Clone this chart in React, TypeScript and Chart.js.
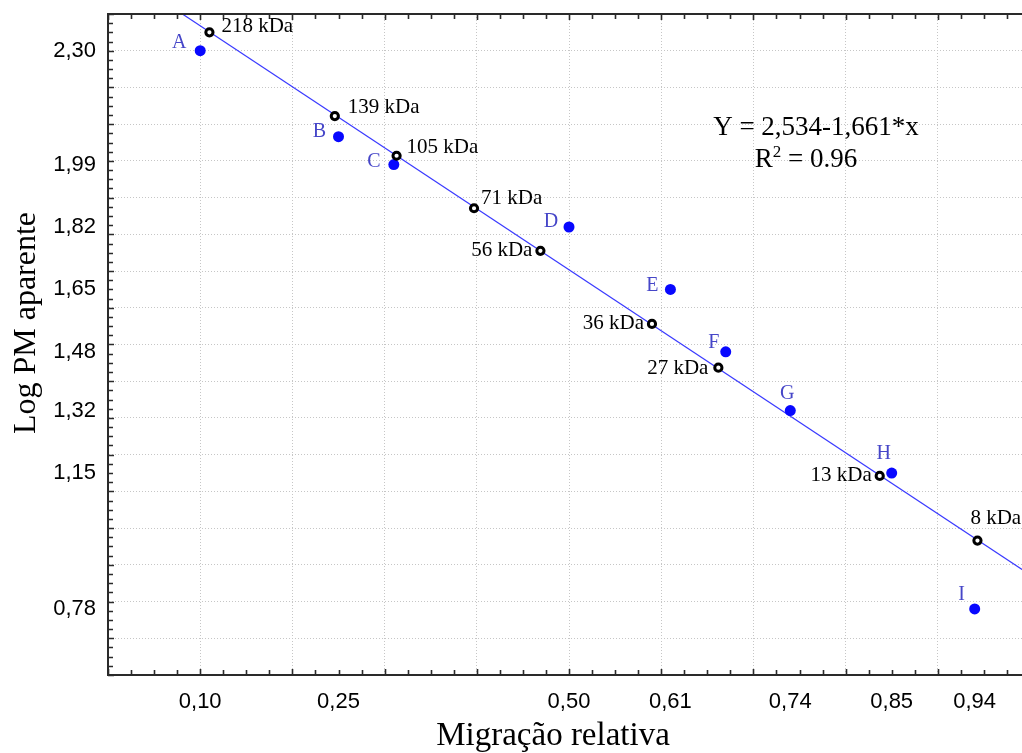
import React, { useEffect, useRef } from 'react';
import { Chart, registerables } from 'chart.js';

Chart.register(...registerables);

// ---------- data ----------
const standardLabels = ['218 kDa', '139 kDa', '105 kDa', '71 kDa', '56 kDa', '36 kDa', '27 kDa', '13 kDa', '8 kDa'];
const standardX = [0.110, 0.246, 0.313, 0.397, 0.469, 0.590, 0.662, 0.837, 0.943];
const standardY = [2.350, 2.122, 2.014, 1.871, 1.755, 1.556, 1.437, 1.142, 0.966];

const sampleLabels = ['A', 'B', 'C', 'D', 'E', 'F', 'G', 'H', 'I'];
const sampleX = [0.10, 0.25, 0.31, 0.50, 0.61, 0.67, 0.74, 0.85, 0.94];
const sampleY = [2.30, 2.066, 1.99, 1.82, 1.65, 1.48, 1.32, 1.15, 0.78];

const regressionX = [0, 1];
const regressionY = [2.534, 0.873];

const xTickValues = [0.10, 0.25, 0.50, 0.61, 0.74, 0.85, 0.94];
const xTickLabels = ['0,10', '0,25', '0,50', '0,61', '0,74', '0,85', '0,94'];
const yTickValues = [2.30, 1.99, 1.82, 1.65, 1.48, 1.32, 1.15, 0.78];
const yTickLabels = ['2,30', '1,99', '1,82', '1,65', '1,48', '1,32', '1,15', '0,78'];

const xGridValues = [0.1, 0.2, 0.3, 0.4, 0.5, 0.6, 0.7, 0.8, 0.9];
const yGridValues = [0.7, 0.8, 0.9, 1.0, 1.1, 1.2, 1.3, 1.4, 1.5, 1.6, 1.7, 1.8, 1.9, 2.0, 2.1, 2.2, 2.3];

const xTitle = 'Migração relativa';
const yTitle = 'Log PM aparente';
const equationText = 'Y = 2,534-1,661*x';
const r2Base = 'R';
const r2Sup = '2';
const r2Rest = ' = 0.96';

// ---------- layout / style ----------
const standardPlacement = [
  { dx: 12, dy: -6, align: 'left' },
  { dx: 13, dy: -9, align: 'left' },
  { dx: 10, dy: -8, align: 'left' },
  { dx: 7, dy: -10, align: 'left' },
  { dx: -8, dy: 0, align: 'right' },
  { dx: -8, dy: 0, align: 'right' },
  { dx: -10, dy: 1, align: 'right' },
  { dx: -8, dy: 0, align: 'right' },
  { dx: -7, dy: -22, align: 'left' },
];
const samplePlacement = [
  { dx: -21, dy: -8 },
  { dx: -19, dy: -5 },
  { dx: -20, dy: -3 },
  { dx: -18, dy: -5 },
  { dx: -18, dy: -4 },
  { dx: -12, dy: -9 },
  { dx: -3, dy: -17 },
  { dx: -8, dy: -19 },
  { dx: -13, dy: -14 },
];

const SERIF = '"Liberation Serif", "Times New Roman", serif';
const SANS = '"Liberation Sans", Arial, sans-serif';

const near = (a: number, b: number) => Math.abs(a - b) < 1e-6;
const buildTicks = (grid: number[], labels: number[]) => {
  const out = [...grid];
  labels.forEach((v) => {
    if (!out.some((g) => near(g, v))) out.push(v);
  });
  return out.sort((a, b) => a - b).map((value) => ({ value }));
};
const lookup = (vals: number[], labels: string[], v: number) => {
  const i = vals.findIndex((x) => near(x, v));
  return i >= 0 ? labels[i] : '';
};

const annotationPlugin = {
  id: 'annotations',
  afterDatasetsDraw(chart: any) {
    const { ctx, chartArea } = chart;
    const xs = chart.scales.x;
    const ys = chart.scales.y;

    // axis tick marks (inward) + top border
    ctx.save();
    ctx.strokeStyle = '#2a2a2a';
    ctx.lineWidth = 1.6;
    ctx.beginPath();
    for (let i = 0; i <= 40; i++) {
      const v = i * 0.025;
      const px = Math.round(xs.getPixelForValue(v)) + 0.5;
      if (px > chartArea.right + 1) break;
      const len = i % 4 === 0 ? 6 : 5;
      ctx.moveTo(px, chartArea.bottom);
      ctx.lineTo(px, chartArea.bottom - len);
      ctx.moveTo(px, chartArea.top);
      ctx.lineTo(px, chartArea.top + len);
    }
    for (let i = 0; i <= 72; i++) {
      const v = 0.6 + i * 0.025;
      const py = Math.round(ys.getPixelForValue(v)) + 0.5;
      const len = i % 4 === 0 ? 6 : 5;
      ctx.moveTo(chartArea.left, py);
      ctx.lineTo(chartArea.left + len, py);
    }
    ctx.stroke();
    ctx.lineWidth = 2;
    ctx.beginPath();
    ctx.moveTo(chartArea.left, chartArea.top);
    ctx.lineTo(chartArea.right, chartArea.top);
    ctx.stroke();
    ctx.restore();

    // standard labels
    ctx.save();
    ctx.font = `21px ${SERIF}`;
    ctx.fillStyle = '#000';
    ctx.textBaseline = 'middle';
    standardLabels.forEach((t, i) => {
      const p = standardPlacement[i];
      const px = xs.getPixelForValue(standardX[i]);
      const py = ys.getPixelForValue(standardY[i]);
      ctx.textAlign = p.align;
      ctx.fillText(t, px + p.dx, py + p.dy);
    });
    // sample labels
    ctx.font = `20px ${SERIF}`;
    ctx.fillStyle = '#4646c8';
    ctx.textAlign = 'center';
    sampleLabels.forEach((t, i) => {
      const p = samplePlacement[i];
      const px = xs.getPixelForValue(sampleX[i]);
      const py = ys.getPixelForValue(sampleY[i]);
      ctx.fillText(t, px + p.dx, py + p.dy);
    });

    // equation
    ctx.fillStyle = '#000';
    ctx.textBaseline = 'alphabetic';
    ctx.font = `27px ${SERIF}`;
    ctx.textAlign = 'center';
    ctx.fillText(equationText, 816, 135);
    const wR = ctx.measureText(r2Base).width;
    const wRest = ctx.measureText(r2Rest).width;
    ctx.font = `17px ${SERIF}`;
    const wSup = ctx.measureText(r2Sup).width;
    const total = wR + wSup + wRest;
    const x0 = 806 - total / 2;
    ctx.textAlign = 'left';
    ctx.font = `27px ${SERIF}`;
    ctx.fillText(r2Base, x0, 167);
    ctx.font = `17px ${SERIF}`;
    ctx.fillText(r2Sup, x0 + wR, 157);
    ctx.font = `27px ${SERIF}`;
    ctx.fillText(r2Rest, x0 + wR + wSup, 167);

    // axis titles
    ctx.font = `33px ${SERIF}`;
    ctx.textAlign = 'center';
    ctx.fillText(xTitle, 553, 745);
    ctx.save();
    ctx.translate(35, 323);
    ctx.rotate(-Math.PI / 2);
    ctx.font = `32px ${SERIF}`;
    ctx.fillText(yTitle, 0, 0);
    ctx.restore();
    ctx.restore();
  },
};

export default function App() {
  const ref = useRef<HTMLCanvasElement>(null);

  useEffect(() => {
    const canvas = ref.current;
    if (!canvas) return;
    const gridColor = (vals: number[]) => (c: any) =>
      c.tick && vals.some((g) => near(g, c.tick.value)) ? '#c6c6c6' : 'rgba(0,0,0,0)';

    const chart = new Chart(canvas, {
      type: 'scatter',
      data: {
        datasets: [
          {
            label: 'Regressão',
            data: regressionX.map((x, i) => ({ x, y: regressionY[i] })),
            showLine: true,
            borderColor: '#3a3aff',
            borderWidth: 1.2,
            pointRadius: 0,
            order: 3,
          },
          {
            label: 'Padrões',
            data: standardX.map((x, i) => ({ x, y: standardY[i] })),
            pointRadius: 3.6,
            borderWidth: 3,
            borderColor: '#000',
            backgroundColor: '#fff',
            order: 1,
          },
          {
            label: 'Amostras',
            data: sampleX.map((x, i) => ({ x, y: sampleY[i] })),
            pointRadius: 5.5,
            borderWidth: 0,
            backgroundColor: '#0808ff',
            order: 2,
          },
        ],
      },
      options: {
        animation: false,
        responsive: false,
        maintainAspectRatio: false,
        layout: { padding: { left: 0, top: 14, right: 10, bottom: 0 } },
        plugins: { legend: { display: false }, tooltip: { enabled: false } },
        scales: {
          x: {
            type: 'linear',
            min: 0,
            max: 1.0,
            afterBuildTicks: (s: any) => {
              s.ticks = buildTicks(xGridValues, xTickValues);
            },
            afterFit: (s: any) => {
              s.height = 78;
              s.paddingLeft = 0;
              s.paddingRight = 0;
            },
            grid: { color: gridColor(xGridValues), lineWidth: 1, drawTicks: false },
            border: { display: true, color: '#2a2a2a', width: 2, dash: [1, 2] },
            ticks: {
              autoSkip: false,
              maxRotation: 0,
              padding: 14,
              color: '#000',
              font: { family: SANS, size: 22 },
              callback: (v: any) => lookup(xTickValues, xTickLabels, Number(v)),
            },
          },
          y: {
            type: 'linear',
            min: 0.6,
            max: 2.4,
            afterBuildTicks: (s: any) => {
              s.ticks = buildTicks(yGridValues, yTickValues);
            },
            afterFit: (s: any) => {
              s.width = 108;
              s.paddingTop = 0;
              s.paddingBottom = 0;
            },
            grid: { color: gridColor(yGridValues), lineWidth: 1, drawTicks: false },
            border: { display: true, color: '#2a2a2a', width: 2, dash: [1, 2] },
            ticks: {
              autoSkip: false,
              padding: 12,
              color: '#000',
              font: { family: SANS, size: 22 },
              callback: (v: any) => lookup(yTickValues, yTickLabels, Number(v)),
            },
          },
        },
      },
      plugins: [annotationPlugin],
    } as any);

    return () => chart.destroy();
  }, []);

  return (
    <div
      style={{
        position: 'absolute',
        left: 0,
        top: 0,
        width: 1022,
        height: 753,
        overflow: 'hidden',
        background: '#fff',
      }}
    >
      <canvas ref={ref} width={1040} height={753} style={{ display: 'block', width: 1040, height: 753 }} />
    </div>
  );
}
